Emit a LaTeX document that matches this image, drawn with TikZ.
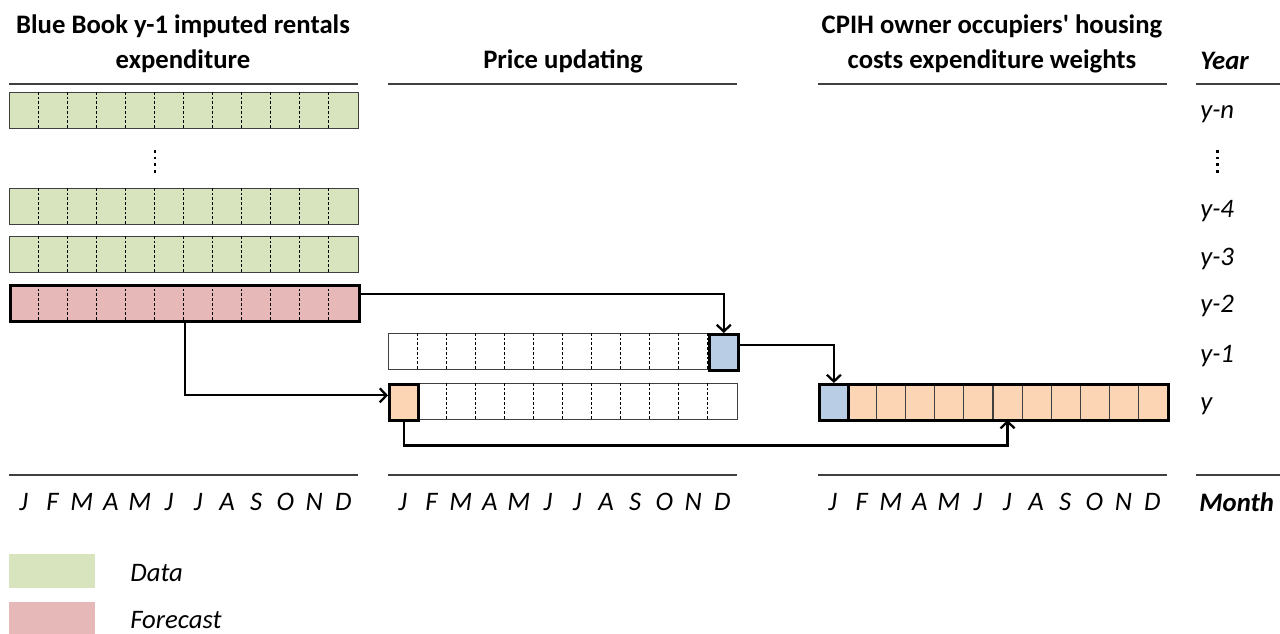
\documentclass[tikz,border=0pt]{standalone}
\usepackage{fontspec}
\setmainfont{Carlito}[Ligatures=TeXOff]
\usetikzlibrary{arrows.meta}
\definecolor{datagreen}{HTML}{D7E4BD}
\definecolor{fcred}{HTML}{E6B9B8}
\definecolor{pxblue}{HTML}{B9CDE5}
\definecolor{wtorange}{HTML}{FCD5B5}
\definecolor{rulegray}{HTML}{404040}
\tikzset{
	barbox/.style={draw=rulegray,line width=0.8pt,minimum width=6.98cm,minimum height=0.72cm,inner sep=0pt,anchor=north west},
	cellbox/.style={draw=rulegray,line width=0.6pt,minimum width=0.5816cm,minimum height=0.72cm,inner sep=0pt,anchor=north west,fill=wtorange},
	hicell/.style={draw=black,line width=1.5pt,minimum width=0.5816cm,minimum height=0.72cm,inner sep=0pt,anchor=north west},
	divider/.style={black,line width=0.6pt,dash pattern=on 1.5pt off 1.2pt},
	vdots/.style={black,line width=1.7pt,dash pattern=on 1.6pt off 2.2pt},
	hrule/.style={rulegray,line width=1pt},
	conn/.style={black,line width=1.3pt,-{Straight Barb[length=3.8pt,width=8pt]}},
	head/.style={font=\fontsize{15.2}{19.8}\selectfont\bfseries,align=center},
	month/.style={font=\fontsize{15.2}{17}\selectfont\itshape},
	yearlab/.style={font=\fontsize{15.2}{17}\selectfont\itshape,anchor=west,inner sep=0pt},
	legbox/.style={minimum width=1.72cm,minimum height=0.68cm,inner sep=0pt,anchor=north west}
}
% row of twelve months with dotted dividers
\newcommand{\monthbar}[4]{%
	\node[#4] (#1) at (#2,#3) {};
	\foreach \k in {1,...,11}
		\draw[divider] (#2+\k*29.08,#3) -- ++(0,36);
}
\begin{document}
\begin{tikzpicture}[x=0.02cm,y=-0.02cm]
	\useasboundingbox (0,0) rectangle (1280,633);
	% headers
	\node[head] (hbb) at (183,44) {Blue Book y-1 imputed rentals\\expenditure};
	\node[head] (hpu) at (563,61) {Price updating};
	\node[head] (hwt) at (992,44) {CPIH owner occupiers' housing\\costs expenditure weights};
	\node[yearlab,font=\fontsize{15.2}{17}\selectfont\bfseries\itshape] (hyear) at (1200,61) {Year};
	\foreach \x/\w in {9/349,388/349,818/349,1196/84}{
		\draw[hrule] (\x,84) -- ++(\w,0);
		\draw[hrule] (\x,475) -- ++(\w,0);
	}
	% Blue Book rows
	\monthbar{bbn}{9}{92}{barbox,fill=datagreen}
	\draw[vdots] (155,150) -- (155,173);
	\monthbar{bb4}{9}{188}{barbox,fill=datagreen}
	\monthbar{bb3}{9}{236}{barbox,fill=datagreen}
	\monthbar{bb2}{9}{284}{barbox,fill=fcred,draw=black,line width=1.5pt}
	% price updating rows
	\monthbar{pu1}{388}{333}{barbox,fill=white}
	\node[hicell,fill=pxblue] (pu1d) at (707.9,333) {};
	\monthbar{pu2}{388}{383}{barbox,fill=white}
	\node[hicell,fill=wtorange] (pu2j) at (388,383) {};
	% weights row
	\foreach \i in {1,...,12}
		\node[cellbox] (wt\i) at (818+\i*29.08-29.08,383) {};
	\node[barbox,draw=black,line width=1.5pt] (wtrow) at (818,383) {};
	\node[hicell,fill=pxblue] (wt1) at (818,383) {};
	% connectors
	\draw[conn] ([yshift=-0.2cm]bb2.north east) -| (pu1d.north);
	\draw[conn] (bb2.south) |- ([yshift=0.14cm]pu2j.west);
	\draw[conn] ([yshift=0.14cm]pu1d.east) -| (wt1.north);
	\draw[conn] (pu2j.south) -- ++(0,24) -| (wt7.south);
	% years
	\node[yearlab] (yn) at (1200,114) {y-n};
	\draw[vdots] (1217,150) -- (1217,173);
	\node[yearlab] (y4) at (1200,211) {y-4};
	\node[yearlab] (y3) at (1200,259) {y-3};
	\node[yearlab] (y2) at (1200,306) {y-2};
	\node[yearlab] (y1) at (1200,356) {y-1};
	\node[yearlab] (y0) at (1200,406) {y};
	% months
	\foreach \x/\b in {9/bb,388/pu,818/wt}
		\foreach \m [count=\i] in {J,F,M,A,M,J,J,A,S,O,N,D}
			\node[month] (m\b\i) at (\x+\i*29.08-14.54,502) {\m};
	\node[yearlab,font=\fontsize{15.2}{17}\selectfont\bfseries\itshape] (hmonth) at (1199,502) {Month};
	% legend
	\node[legbox,fill=datagreen] (legdata) at (9,554) {};
	\node[yearlab] (ldata) at (130,573) {Data};
	\node[legbox,fill=fcred] (legfc) at (9,602) {};
	\node[yearlab] (lfc) at (130,620) {Forecast};
\end{tikzpicture}
\end{document}
